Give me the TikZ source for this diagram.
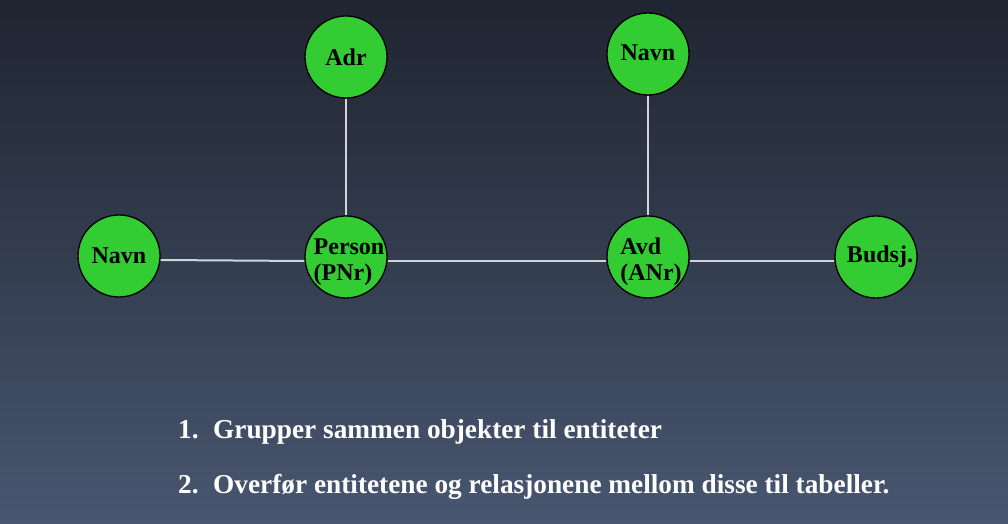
\documentclass[tikz,border=0pt]{standalone}
\usepackage{fontspec}
\setmainfont{Liberation Serif}
\usepackage{tikz}
\usetikzlibrary{positioning}
\definecolor{bgtop}{RGB}{31,37,48}
\definecolor{bgbot}{RGB}{72,86,112}
\definecolor{entgreen}{RGB}{51,204,51}
\definecolor{linkgrey}{RGB}{208,212,220}
\tikzset{
  ent/.style={circle, draw=black, line width=1.3pt, fill=entgreen, minimum size=82pt,
    inner sep=0pt, font=\bfseries\fontsize{24}{26}\selectfont},
  link/.style={draw=linkgrey, line width=2pt},
  step list/.style={anchor=base west, inner sep=0pt, text=white,
    font=\bfseries\fontsize{27.3}{30}\selectfont}
}
% tekst i sirkel, litt forskjoevet til hoeyre og ned
\newcommand{\enttext}[1]{\raisebox{-12pt}[20pt][20pt]{\makebox[0pt]{\hspace{6pt}\begin{tabular}{@{}l@{}}#1\end{tabular}}}}

\begin{document}
\begin{tikzpicture}[x=1pt, y=1pt]
			\shade[top color=bgtop, bottom color=bgbot] (0,0) rectangle (1008,524);
			\useasboundingbox (0,0) rectangle (1008,524);
			% entiteter
			\node[ent] (person) at (346,267) {\enttext{Person\\(PNr)}};
			\node[ent] (avd) at (648,267) {\enttext{Avd\\(ANr)}};
			\node[ent] (navnP) at (119,268) {Navn};
			\node[ent] (adr) at (346,467) {Adr};
			\node[ent] (navnA) at (648,470) {\raisebox{2pt}{Navn}};
			\node[ent] (budsj) at (876,267) {\makebox[0pt]{\hspace{8pt}Budsj.}};
			% relasjoner
			\draw[link] ([yshift=-4pt]navnP.east) -- ([yshift=-4pt]person.west);
			\draw[link] ([yshift=-4pt]person.east) -- ([yshift=-4pt]avd.west);
			\draw[link] ([yshift=-4pt]avd.east) -- ([yshift=-4pt]budsj.west);
			\draw[link] (adr.south) -- (person.north);
			\draw[link] (navnA.south) -- (avd.north);
			% tekst
			\node[step list] (steg1) at (178,85) {\makebox[35pt][l]{1.}Grupper sammen objekter til entiteter};
			\node[step list] (steg2) at (178,30) {\makebox[35pt][l]{2.}Overf\o r entitetene og relasjonene mellom disse til tabeller.};
\end{tikzpicture}
\end{document}
